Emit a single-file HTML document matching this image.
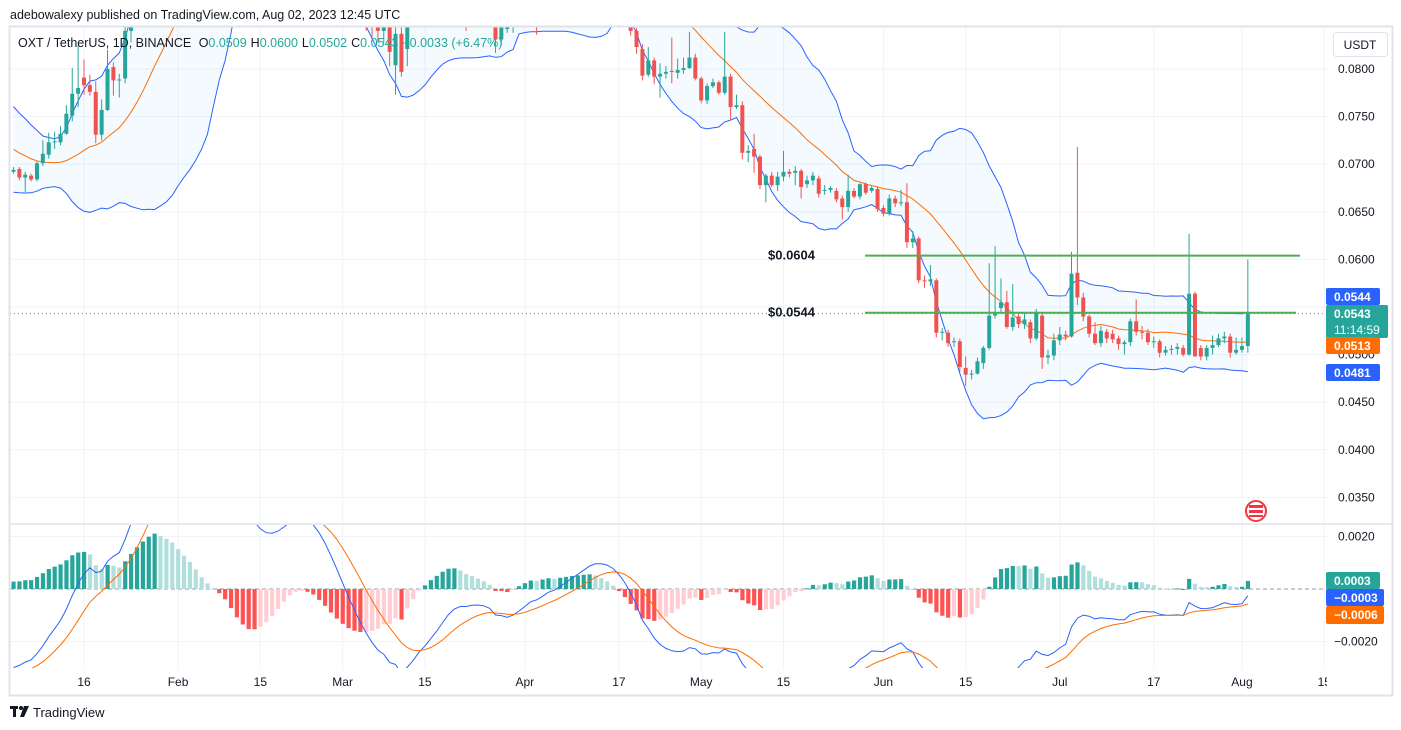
<!DOCTYPE html>
<html><head><meta charset="utf-8"><style>
html,body{margin:0;padding:0;background:#fff;}
svg{display:block;font-family:"Liberation Sans",sans-serif;}
</style></head><body>
<svg id="chart" width="1401" height="730" viewBox="0 0 1401 730" xmlns="http://www.w3.org/2000/svg">
<defs>
<clipPath id="cpPrice"><rect x="10" y="27" width="1318" height="496"/></clipPath>
<clipPath id="cpMacd"><rect x="10" y="525" width="1318" height="143"/></clipPath>
<clipPath id="cpTime"><rect x="10" y="670" width="1317" height="25"/></clipPath>
</defs>
<rect width="1401" height="730" fill="#fff"/>
<text x="10" y="19" font-size="12.5" fill="#131722">adebowalexy published on TradingView.com, Aug 02, 2023 12:45 UTC</text>
<g id="grid"></g>
<g id="priceLayer" clip-path="url(#cpPrice)"></g>
<g id="macdLayer" clip-path="url(#cpMacd)"></g>
<g id="timeLayer" clip-path="url(#cpTime)"></g>
<g id="axisLayer"></g>
<rect x="9.5" y="26.5" width="1383" height="669" fill="none" stroke="#e0e3eb" stroke-width="2"/>
<line x1="10" y1="524" x2="1392" y2="524" stroke="#e0e3eb" stroke-width="1.5"/>
<text x="18" y="47" font-size="12.5" fill="#131722">OXT / TetherUS, 1D, BINANCE <tspan dx="4">O</tspan><tspan fill="#26a69a">0.0509</tspan><tspan dx="4">H</tspan><tspan fill="#26a69a">0.0600</tspan><tspan dx="4">L</tspan><tspan fill="#26a69a">0.0502</tspan><tspan dx="4">C</tspan><tspan fill="#26a69a">0.0543</tspan><tspan dx="4" fill="#26a69a">+0.0033 (+6.47%)</tspan></text>
<g><rect x="1333.5" y="32.5" width="54" height="24" rx="3" fill="#fff" stroke="#e0e3eb"/><text x="1360" y="49" font-size="12" text-anchor="middle" fill="#131722">USDT</text></g>
<g><rect x="10" y="706" width="8" height="3" fill="#131722"/><rect x="13" y="706" width="3" height="11" fill="#131722"/><circle cx="21" cy="708" r="2" fill="#131722"/><path d="M24 706 L29 706 L24 717 L20 717 Z" fill="#131722"/><text x="33" y="717" font-size="13" fill="#131722">TradingView</text></g>
</svg>
<script>
// ---- DATA (day index: 0 = Jan 1 2023) ----
const firstDay = 3;
const warmupCloses = [0.090,0.089,0.088,0.088,0.087,0.086,0.086,0.085,0.084,0.084,0.083,0.082,0.082,0.081,0.080,0.080,0.079,0.078,0.078,0.077,0.076,0.076,0.075,0.075,0.074,0.074,0.073,0.073,0.072,0.072,0.071,0.071,0.070,0.070,0.0698,0.0695,0.0693,0.0690,0.0692,0.0690];
const opens = [
.0692,.0695,.0686,.0688,.0684,.0701,.0710,.0723,.0723,.0732,
.0751,.0774,.0791,.0783,.0776,.0731,.0757,.0802,.0788,.0790,
.0840,.0870,.0895,.0920,.0945,.0965,.0960,.0975,.0985,.0980,
.0985,.0990,.0985,.0980,.0985,.0990,.0985,.0975,.0950,.0930,
.0920,.0915,.0925,.0935,.0945,.0960,.0975,.0990,.1000,.1000,
.0995,.0990,.0980,.0960,.0945,.0925,.0910,.0895,.0880,.0870,
.0860,.0852,.0845,.0840,.0846,.0804,.0837,.0821,.0855,.0860,
.0870,.0865,.0875,.0880,.0890,.0895,.0890,.0880,.0870,.0875,
.0870,.0865,.0855,.0831,.0842,.0845,.0860,.0870,.0875,.0880,
.0870,.0880,.0885,.0880,.0890,.0895,.0900,.0905,.0910,.0915,
.0912,.0905,.0900,.0890,.0875,.0860,.0840,.0821,.0794,.0809,
.0792,.0795,.0798,.0796,.0799,.0801,.0812,.0790,.0767,.0782,
.0786,.0775,.0792,.0760,.0762,.0712,.0716,.0708,.0678,.0688,
.0678,.0687,.0692,.0691,.0693,.0679,.0683,.0685,.0672,.0673,
.0672,.0664,.0655,.0672,.0666,.0679,.0672,.0674,.0654,.0648,
.0664,.0659,.0660,.0618,.0622,.0578,.0577,.0578,.0523,.0523,
.0513,.0514,.0486,.0479,.0480,.0491,.0507,.0541,.0549,.0555,
.0529,.0540,.0532,.0534,.0517,.0541,.0497,.0499,.0515,.0521,
.0519,.0586,.0560,.0540,.0522,.0512,.0524,.0522,.0517,.0511,
.0513,.0535,.0524,.0523,.0513,.0514,.0502,.0505,.0506,.0507,
.0500,.0564,.0507,.0498,.0507,.0510,.0517,.0519,.0502,.0505,.0509];
const highs = [
.0697,.0697,.0692,.0690,.0703,.0725,.0733,.0734,.0740,.0762,
.0801,.0825,.0810,.0794,.0787,.0768,.0820,.0807,.0795,.0880,
.0882,.0907,.0932,.0957,.0977,.0977,.0987,.0997,.0997,.0997,
.1002,.1002,.0997,.0997,.1002,.1002,.0997,.0987,.0962,.0942,
.0932,.0937,.0947,.0957,.0972,.0987,.1002,.1012,.1012,.1012,
.1007,.1002,.0992,.0972,.0957,.0937,.0922,.0907,.0892,.0882,
.0872,.0864,.0857,.0858,.0850,.0845,.0846,.0860,.0870,.0880,
.0880,.0885,.0890,.0900,.0905,.0905,.0895,.0885,.0885,.0880,
.0880,.0870,.0858,.0856,.0850,.0865,.0875,.0880,.0885,.0885,
.0890,.0895,.0890,.0900,.0905,.0910,.0915,.0920,.0925,.0925,
.0920,.0910,.0905,.0895,.0880,.0870,.0843,.0826,.0823,.0812,
.0806,.0803,.0833,.0811,.0812,.0839,.0816,.0792,.0785,.0790,
.0788,.0839,.0795,.0773,.0766,.0720,.0732,.0710,.0690,.0692,
.0692,.0714,.0695,.0698,.0695,.0688,.0692,.0688,.0678,.0677,
.0675,.0667,.0689,.0675,.0680,.0681,.0677,.0676,.0657,.0668,
.0667,.0673,.0680,.0630,.0624,.0583,.0594,.0580,.0528,.0526,
.0518,.0517,.0498,.0484,.0497,.0509,.0596,.0614,.0580,.0567,
.0574,.0545,.0545,.0537,.0548,.0543,.0505,.0522,.0529,.0525,
.0608,.0718,.0565,.0542,.0534,.0530,.0527,.0526,.0520,.0515,
.0538,.0558,.0530,.0527,.0519,.0516,.0509,.0510,.0512,.0510,
.0627,.0566,.0510,.0510,.0520,.0522,.0524,.0522,.0518,.0518,.0600];
const lows = [
.0690,.0683,.0671,.0682,.0682,.0698,.0706,.0716,.0720,.0731,
.0745,.0760,.0773,.0772,.0722,.0725,.0756,.0772,.0770,.0785,
.0828,.0858,.0883,.0908,.0933,.0948,.0948,.0963,.0968,.0968,
.0973,.0973,.0968,.0968,.0973,.0973,.0963,.0938,.0918,.0908,
.0903,.0903,.0913,.0923,.0933,.0948,.0963,.0978,.0988,.0983,
.0978,.0968,.0948,.0933,.0913,.0898,.0883,.0868,.0858,.0848,
.0840,.0833,.0828,.0828,.0803,.0773,.0792,.0803,.0848,.0852,
.0855,.0860,.0865,.0870,.0880,.0880,.0872,.0840,.0862,.0860,
.0855,.0845,.0817,.0825,.0838,.0838,.0850,.0860,.0865,.0836,
.0862,.0872,.0870,.0872,.0880,.0885,.0890,.0895,.0900,.0900,
.0895,.0890,.0880,.0865,.0850,.0835,.0816,.0788,.0792,.0784,
.0770,.0790,.0785,.0790,.0795,.0800,.0788,.0764,.0763,.0780,
.0773,.0773,.0746,.0758,.0705,.0702,.0691,.0674,.0660,.0676,
.0672,.0682,.0686,.0678,.0664,.0675,.0678,.0665,.0668,.0670,
.0660,.0642,.0650,.0664,.0663,.0668,.0670,.0650,.0645,.0646,
.0655,.0656,.0612,.0612,.0575,.0570,.0572,.0518,.0515,.0508,
.0508,.0482,.0467,.0474,.0479,.0485,.0505,.0538,.0545,.0527,
.0525,.0528,.0527,.0512,.0515,.0485,.0490,.0494,.0510,.0515,
.0518,.0552,.0535,.0518,.0510,.0508,.0512,.0512,.0505,.0500,
.0509,.0520,.0516,.0510,.0507,.0497,.0499,.0500,.0500,.0498,
.0499,.0498,.0494,.0494,.0500,.0508,.0512,.0497,.0500,.0502,.0502];
const closes = [
.0694,.0686,.0689,.0684,.0701,.0711,.0723,.0724,.0732,.0753,
.0774,.0780,.0783,.0776,.0731,.0757,.0800,.0788,.0789,.0840,
.0870,.0895,.0920,.0945,.0965,.0960,.0975,.0985,.0980,.0985,
.0990,.0985,.0980,.0985,.0990,.0985,.0975,.0950,.0930,.0920,
.0915,.0925,.0935,.0945,.0960,.0975,.0990,.1000,.1000,.0995,
.0990,.0980,.0960,.0945,.0925,.0910,.0895,.0880,.0870,.0860,
.0852,.0845,.0840,.0846,.0818,.0837,.0797,.0855,.0860,.0870,
.0865,.0875,.0880,.0890,.0895,.0890,.0880,.0870,.0875,.0870,
.0865,.0855,.0831,.0852,.0845,.0860,.0870,.0875,.0880,.0870,
.0880,.0885,.0880,.0890,.0895,.0900,.0905,.0910,.0915,.0912,
.0905,.0900,.0890,.0875,.0860,.0840,.0823,.0793,.0809,.0792,
.0795,.0797,.0797,.0799,.0801,.0812,.0790,.0767,.0782,.0786,
.0775,.0792,.0760,.0762,.0712,.0714,.0708,.0678,.0688,.0678,
.0687,.0692,.0690,.0693,.0676,.0683,.0688,.0669,.0673,.0675,
.0663,.0655,.0672,.0666,.0679,.0670,.0675,.0653,.0648,.0664,
.0659,.0660,.0618,.0622,.0578,.0577,.0579,.0523,.0524,.0512,
.0514,.0487,.0479,.0480,.0493,.0507,.0541,.0543,.0555,.0529,
.0539,.0532,.0537,.0517,.0545,.0497,.0499,.0515,.0521,.0519,
.0585,.0560,.0540,.0522,.0512,.0525,.0517,.0516,.0511,.0513,
.0535,.0524,.0523,.0513,.0514,.0502,.0505,.0506,.0508,.0500,
.0564,.0498,.0498,.0507,.0510,.0517,.0519,.0502,.0505,.0509,.0543];
const priceTicks = [0.0800,0.0750,0.0700,0.0650,0.0600,0.0550,0.0500,0.0450,0.0400,0.0350];
const macdTicks = [0.0020,-0.0020];
const timeTickDays = [15,31,45,59,73,90,106,120,134,151,165,181,197,212,226];
const timeTickLabels = ["16","Feb","15","Mar","15","Apr","17","May","15","Jun","15","Jul","17","Aug","15"];
const levelValues = [0.0604,0.0544];
const levelLabels = ["$0.0604","$0.0544"];

// ---- SCALES ----
const NS = "http://www.w3.org/2000/svg";
function xOf(d){ return 84 + (d-15)*5.878; }
function yP(p){ return 69 + (0.08-p)*9520; }
function yM(v){ return 589 - v*26250; }
function mk(tag, attrs, parent){ const e=document.createElementNS(NS,tag); for(const k in attrs) e.setAttribute(k,attrs[k]); parent.appendChild(e); return e; }
const grid=document.getElementById('grid'), pl=document.getElementById('priceLayer'), ml=document.getElementById('macdLayer'), tl=document.getElementById('timeLayer'), al=document.getElementById('axisLayer');

// ---- INDICATORS ----
const allC = warmupCloses.concat(closes);
const off = warmupCloses.length;
function ema(arr,n){ const k=2/(n+1); const out=[]; let e=arr[0]; for(let i=0;i<arr.length;i++){ e = i===0?arr[0]:arr[i]*k+e*(1-k); out.push(e);} return out; }
const e12=ema(allC,12), e26=ema(allC,26);
const macd=allC.map((v,i)=>e12[i]-e26[i]);
const sig=ema(macd,9);
const up=[],lo=[],mid=[];
for(let i=off;i<allC.length;i++){ const w=allC.slice(i-19,i+1); const m=w.reduce((a,b)=>a+b,0)/20; const sd=Math.sqrt(w.reduce((a,b)=>a+(b-m)*(b-m),0)/20); mid.push(m); up.push(m+2*sd); lo.push(m-2*sd); }

// ---- GRID ----
priceTicks.forEach(p=>{ const l=mk('line',{x1:10,x2:1328,y1:yP(p),y2:yP(p),stroke:'#f0f3fa'},grid);

 });
macdTicks.forEach(v=>{ const l=mk('line',{x1:10,x2:1328,y1:yM(v),y2:yM(v),stroke:'#f0f3fa'},grid);

 });
timeTickDays.forEach((d,i)=>{ const l=mk('line',{x1:xOf(d),x2:xOf(d),y1:27,y2:670,stroke:'#f0f3fa'},grid);


const t=mk('text',{x:xOf(d),y:686,'font-size':12,'text-anchor':'middle',fill:'#131722'},tl); t.textContent=timeTickLabels[i];

 });

// ---- BOLLINGER ----
function pts(arr,yf){ return arr.map((v,i)=>xOf(firstDay+i).toFixed(1)+','+yf(v).toFixed(1)); }
const fill=mk('polygon',{points:pts(up,yP).concat(pts(lo,yP).reverse()).join(' '),fill:'rgba(33,150,243,0.05)'},pl);


const bu=mk('polyline',{points:pts(up,yP).join(' '),fill:'none',stroke:'#2962ff','stroke-width':1},pl);


const bl=mk('polyline',{points:pts(lo,yP).join(' '),fill:'none',stroke:'#2962ff','stroke-width':1},pl);


const bm=mk('polyline',{points:pts(mid,yP).join(' '),fill:'none',stroke:'#ff6d00','stroke-width':1},pl);



// ---- CANDLES ----
closes.forEach((c,i)=>{ const o=opens[i], x=xOf(firstDay+i); const col=c>=o?'#26a69a':'#ef5350';
const g=mk('g',{},pl);


mk('line',{x1:x,x2:x,y1:yP(highs[i]),y2:yP(lows[i]),stroke:col,'stroke-width':1},g);
const t=Math.min(yP(o),yP(c)); const h=Math.max(1,Math.abs(yP(o)-yP(c)));
mk('rect',{x:x-2,y:t,width:4,height:h,fill:col},g); });

// ---- LEVELS ----
const lastLine=mk('line',{x1:10,x2:1328,y1:yP(closes[closes.length-1]),y2:yP(closes[closes.length-1]),stroke:'#26a69a','stroke-dasharray':'1 3'},pl);


levelValues.forEach((v,i)=>{ const l=mk('line',{x1:865,x2:i===0?1300:1296,y1:yP(v),y2:yP(v),stroke:'#4caf50','stroke-width':2},pl);


const t=mk('text',{x:768,y:yP(v)+4,'font-size':13,'font-weight':'bold',fill:'#131722'},pl); t.textContent=levelLabels[i];

 });

// ---- MACD ----
const zl=mk('line',{x1:10,x2:1328,y1:yM(0),y2:yM(0),stroke:'#9598a1','stroke-dasharray':'4 3'},ml);


for(let i=off;i<allC.length;i++){ const h=macd[i]-sig[i], ph=macd[i-1]-sig[i-1]; const x=xOf(firstDay+i-off);
const col = h>=0 ? (h>ph?'#26a69a':'#b2dfdb') : (h<ph?'#ff5252':'#ffcdd2');
const y1=Math.min(yM(0),yM(h)), hh=Math.max(1,Math.abs(yM(h)-yM(0)));
const r=mk('rect',{x:x-2,y:y1,width:4.2,height:hh,fill:col},ml);

 }
const mLine=mk('polyline',{points:pts(macd.slice(off),yM).join(' '),fill:'none',stroke:'#2962ff','stroke-width':1},ml);


const sLine=mk('polyline',{points:pts(sig.slice(off),yM).join(' '),fill:'none',stroke:'#ff6d00','stroke-width':1},ml);



// ---- AXES ----
priceTicks.forEach(p=>{ const t=mk('text',{x:1338,y:yP(p)+4,'font-size':12,fill:'#131722'},al); t.textContent=p.toFixed(4);

 });
macdTicks.forEach(v=>{ const t=mk('text',{x:v<0?1334:1338,y:yM(v)+4,'font-size':12,fill:'#131722'},al); t.textContent=(v<0?'\u22120.0020':'0.0020');

 });
function badge(name,y,h,w,bg,lines){ const g=mk('g',{},al);


mk('rect',{x:1326,y:y,width:w,height:h,rx:2,fill:bg},g);
lines.forEach((s,i)=>{ const t=mk('text',{x:1334,y:y+13+i*16,'font-size':12,'font-weight':i===0?'bold':'normal',fill:'#fff'},g); t.textContent=s; }); }
badge('bb-upper-badge',288,17,54,'#2962ff',['0.0544']);
badge('last-price-badge',305,33,62,'#26a69a',['0.0543','11:14:59']);
badge('bb-basis-badge',337,17,54,'#ff6d00',['0.0513']);
badge('bb-lower-badge',364,17,54,'#2962ff',['0.0481']);
badge('histogram-badge',572,17,54,'#26a69a',['0.0003']);
badge('macd-badge',589,17,58,'#2962ff',['\u22120.0003']);
badge('signal-badge',606,18,58,'#ff6d00',['\u22120.0006']);
const flag=mk('g',{},al);


mk('circle',{cx:1256,cy:511,r:10,fill:'#fff',stroke:'#f23645','stroke-width':2},flag);
mk('rect',{x:1249,y:505,width:14,height:3,fill:'#f23645'},flag);
mk('rect',{x:1249,y:510,width:14,height:3,fill:'#f23645'},flag);
mk('rect',{x:1249,y:515,width:14,height:2,fill:'#f23645'},flag);
</script>
</body></html>
